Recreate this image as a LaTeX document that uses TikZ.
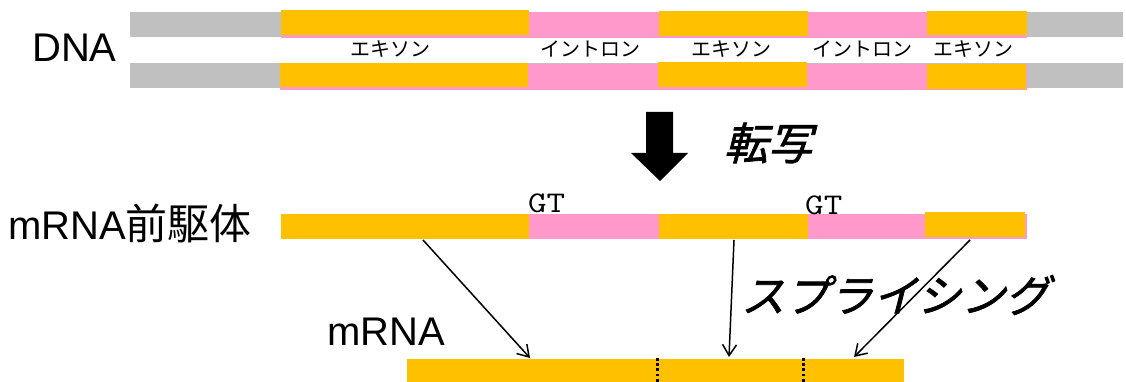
\documentclass[tikz,border=0pt]{standalone}
\usepackage{fontspec}
\setmainfont{Liberation Sans}
\newfontfamily\jp{Noto Sans CJK JP}
\newfontfamily\jpit[FakeSlant=0.25,FakeBold=1.5]{Noto Sans CJK JP}
\newfontfamily\gtfont[FakeStretch=1.2]{Latin Modern Mono}
\usetikzlibrary{arrows.meta}
\definecolor{exon}{HTML}{FFC000}
\definecolor{intron}{HTML}{FF99CC}
\definecolor{flank}{HTML}{C0C0C0}
\tikzset{
  exonbar/.style={fill=exon,draw=none},
  intronbar/.style={fill=intron,draw=none},
  flankbar/.style={fill=flank,draw=none},
  biglabel/.style={inner sep=0pt,font=\fontsize{40}{44}\selectfont},
  smalllabel/.style={inner sep=0pt,font=\jp\fontsize{20}{22}\selectfont},
  gtlabel/.style={inner sep=0pt,font=\gtfont\fontsize{30}{32}\selectfont},
  italabel/.style={inner sep=0pt,font=\jpit\fontsize{44}{48}\selectfont},
  splice/.style={line width=1.5pt,-{Straight Barb[length=11pt,width=14pt,line width=1.5pt]}},
  junction/.style={line width=3pt,dash pattern=on 2.8pt off 2.4pt}
}
\begin{document}
\begin{tikzpicture}[x=1pt,y=-1pt]
\useasboundingbox (0,0) rectangle (1126,382);
% DNA top strand
\fill[flankbar] (130,12) rectangle (1123,37);
\fill[intronbar] (281,12) rectangle (1027,38);
\fill[exonbar] (281,10) rectangle (529,35);
\fill[exonbar] (659,11) rectangle (808,36);
\fill[exonbar] (927,11) rectangle (1027,35);
% DNA bottom strand
\fill[flankbar] (130,63) rectangle (1123,88);
\fill[intronbar] (280,64) rectangle (1027,90);
\fill[exonbar] (280,63) rectangle (528,87);
\fill[exonbar] (658,62) rectangle (807,87);
\fill[exonbar] (927,64) rectangle (1026,89);
% DNA labels
\node[biglabel,anchor=base west] (dna) at (32,62) {DNA};
\node[smalllabel] (ex1) at (390,49) {エキソン};
\node[smalllabel] (in1) at (590,49) {イントロン};
\node[smalllabel] (ex2) at (731,49) {エキソン};
\node[smalllabel] (in2) at (862,49) {イントロン};
\node[smalllabel] (ex3) at (973,49) {エキソン};
% transcription arrow
\fill[black] (646,112) -- (673,112) -- (673,153) -- (688,153) -- (660,181) -- (631,153) -- (646,153) -- cycle;
\node[italabel] (tensha) at (768,143) {転写};
% pre-mRNA
\fill[intronbar] (281,214) rectangle (1027,239);
\fill[exonbar] (281,214) rectangle (529,239);
\fill[exonbar] (659,214) rectangle (808,239);
\fill[exonbar] (925,212) rectangle (1025,237);
\node[biglabel,anchor=base west] (pre) at (8,239) {mRNA{\jp\fontsize{42}{44}\selectfont 前駆体}};
\node[gtlabel,anchor=base west] (gt1) at (528,212) {GT};
\node[gtlabel,anchor=base west] (gt2) at (805,214) {GT};
% mRNA
\fill[exonbar] (407,359) rectangle (904,382);
\draw[junction] (657,358) -- (657,382);
\draw[junction] (803,358) -- (803,382);
\node[biglabel,anchor=base west] (mrna) at (327,345) {mRNA};
% splicing arrows
\coordinate (s1) at (423,240);
\coordinate (s2) at (734,240);
\coordinate (s3) at (970,240);
\coordinate (t1) at (530,358);
\coordinate (t2) at (729,357);
\coordinate (t3) at (854,357);
\node[italabel] (splicing) at (895,295) {スプライシング};
\draw[splice] (s1) -- (t1);
\draw[splice] (s2) -- (t2);
\draw[splice] (s3) -- (t3);
\end{tikzpicture}
\end{document}
